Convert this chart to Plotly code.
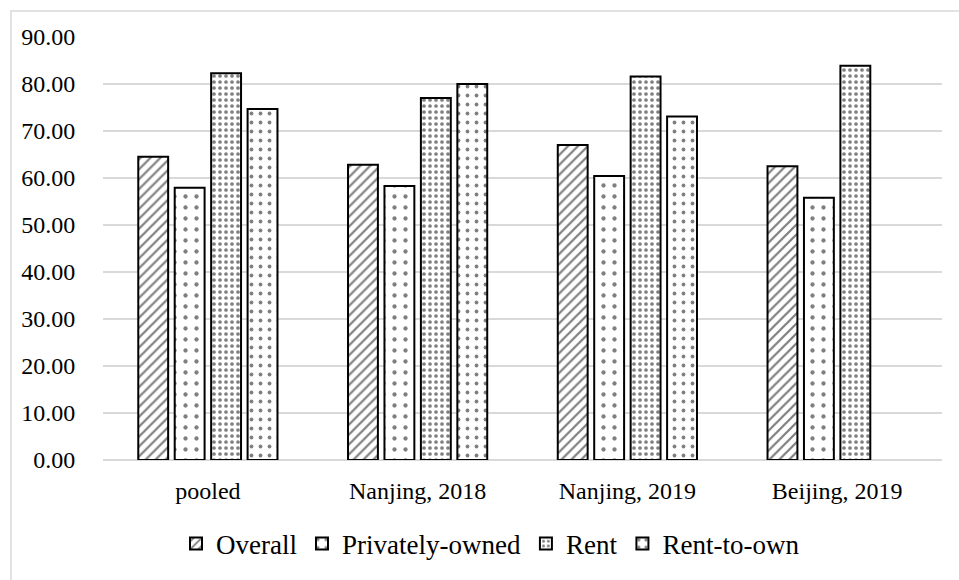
import plotly.graph_objects as go

# Survey groups and shares (%) by housing tenure
categories = ["pooled", "Nanjing, 2018", "Nanjing, 2019", "Beijing, 2019"]
overall = [64.5, 62.8, 67.0, 62.5]
privately_owned = [57.9, 58.3, 60.4, 55.8]
rent = [82.3, 77.0, 81.6, 83.9]
rent_to_own = [74.7, 80.0, 73.1, None]
y_ticks = [0, 10, 20, 30, 40, 50, 60, 70, 80, 90]

W, H = 959, 580
ML, MR, MT, MB = 103, 17, 37, 120
PW, PH = W - ML - MR, H - MT - MB


def px_to_paper(x, y):
    return (x - ML) / PW, (H - MB - y) / PH


SERIF = "Times New Roman, Liberation Serif, serif"
font = dict(family=SERIF, size=24, color="#000000")
legend_font = dict(family=SERIF, size=27, color="#000000")

series = [
    ("Overall", overall, dict(shape="/", size=7, solidity=0.32)),
    ("Privately-owned", privately_owned, dict(shape=".", size=11, solidity=0.12)),
    ("Rent", rent, dict(shape=".", size=6, solidity=0.3)),
    ("Rent-to-own", rent_to_own, dict(shape=".", size=9, solidity=0.14)),
]

fig = go.Figure()
for name, vals, pat in series:
    fig.add_trace(go.Bar(
        name=name,
        x=categories,
        y=vals,
        marker=dict(
            color="#ffffff",
            line=dict(color="#000000", width=2),
            pattern=dict(fgcolor="#000000", bgcolor="#ffffff", fillmode="overlay", **pat),
        ),
    ))

x0, y0 = px_to_paper(11, 11)
x1, y1 = px_to_paper(W + 10, H + 10)
leg_x, leg_y = px_to_paper(176, 544)

fig.update_layout(
    width=W, height=H,
    margin=dict(l=ML, r=MR, t=MT, b=MB, pad=0),
    paper_bgcolor="#ffffff",
    plot_bgcolor="#ffffff",
    font=font,
    barmode="group",
    bargap=0.305,
    bargroupgap=0.18,
    showlegend=True,
    legend=dict(
        orientation="h",
        x=leg_x, xanchor="left",
        y=leg_y, yanchor="middle",
        font=legend_font,
        bgcolor="rgba(0,0,0,0)",
        itemwidth=30,
        traceorder="normal",
    ),
    xaxis=dict(
        showgrid=False, showline=False,
        ticks="outside", ticklen=9, tickcolor="rgba(0,0,0,0)",
        tickfont=font,
    ),
    yaxis=dict(
        range=[0, 90],
        tickvals=y_ticks,
        ticktext=[f"{v:.2f}" for v in y_ticks],
        showgrid=True, gridcolor="#d9d9d9", gridwidth=1.5,
        zeroline=True, zerolinecolor="#d9d9d9", zerolinewidth=1.5,
        showline=False, ticks="outside", ticklen=22, tickcolor="rgba(0,0,0,0)",
        tickfont=font,
    ),
    shapes=[dict(
        type="rect", xref="paper", yref="paper",
        x0=x0, y0=y1, x1=x1, y1=y0,
        line=dict(color="#d9d9d9", width=1.5),
        fillcolor="rgba(0,0,0,0)", layer="below",
    )],
)

fig.write_html("out.html")
